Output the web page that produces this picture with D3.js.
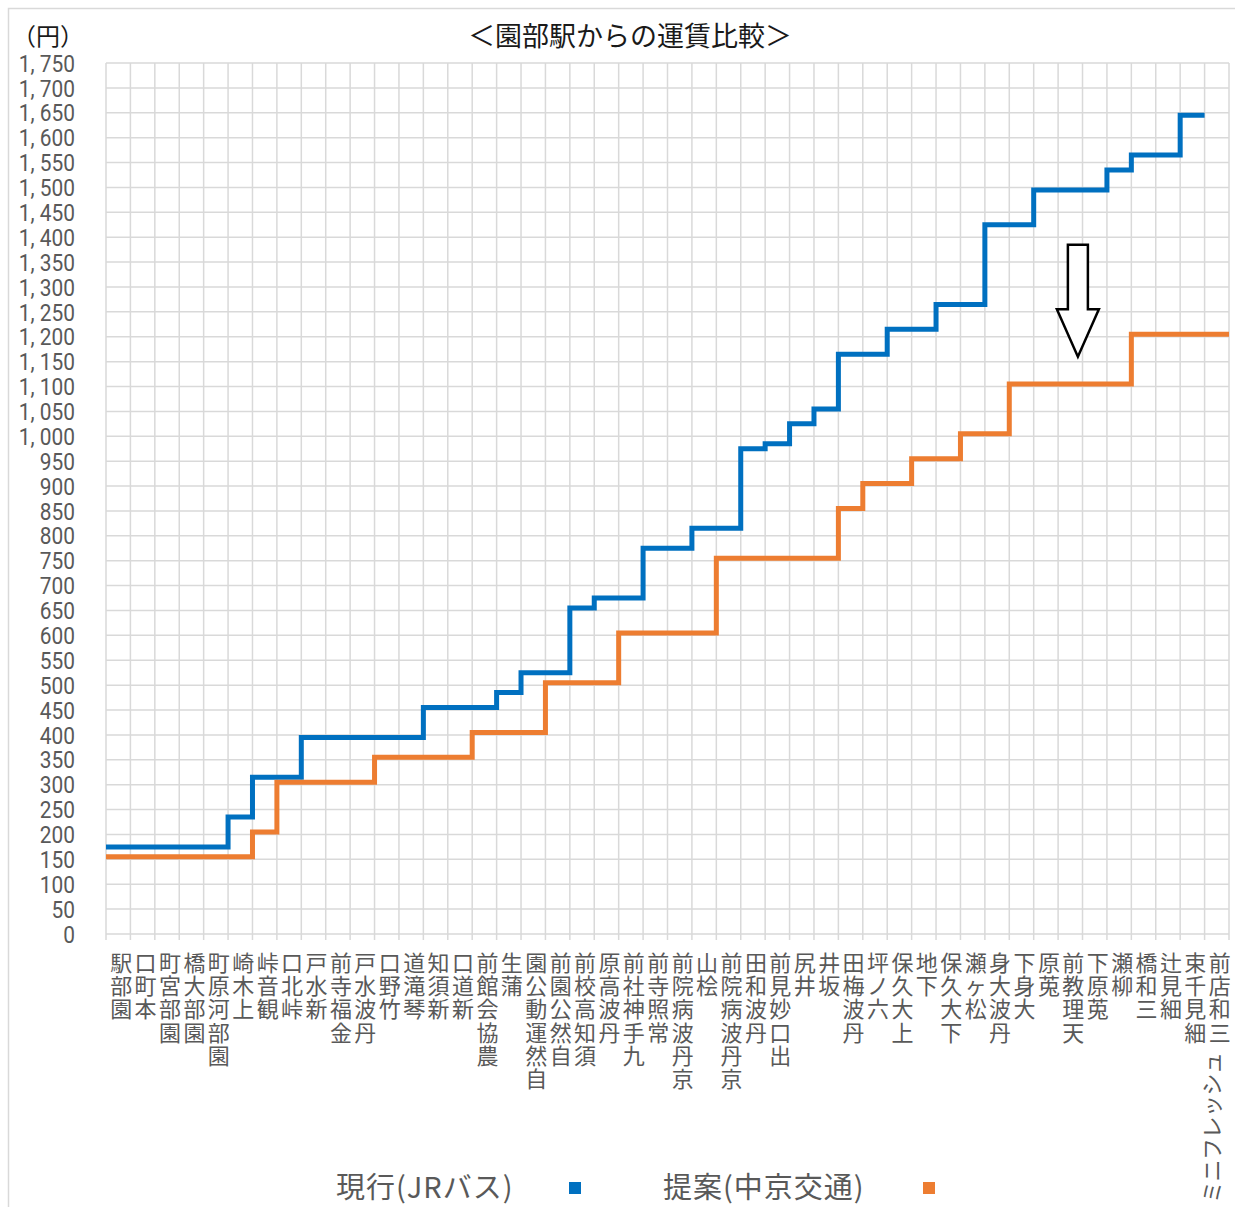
<!DOCTYPE html>
<html>
<head>
<meta charset="utf-8">
<script src="https://cdn.jsdelivr.net/npm/d3@7"></script>
<style>
body { margin: 0; background: #fff; }
svg { display: block; }
.grid line { stroke: #d9d9d9; stroke-width: 1.5; }
.ytick { font-family: Roboto, "Noto Sans", sans-serif; font-size: 24px; fill: #595959; }
.xlabel { font-family: "Noto Sans CJK JP", sans-serif; font-size: 22px; fill: #595959; }
.legend text { font-family: "Noto Sans CJK JP", sans-serif; font-size: 29px; letter-spacing: 1px; fill: #595959; }
.title { font-family: "Noto Sans CJK JP", sans-serif; font-size: 27px; fill: #1a1a1a; }
</style>
</head>
<body>
<svg id="chart" width="1235" height="1207"></svg>
<script>
"use strict";

// data
const stations = [
    "園部駅", "本町口", "園部宮町", "園部大橋", "園部河原町", "上木崎", "観音峠", "峠北口",
    "新水戸", "金福寺前", "丹波水戸", "竹野口", "琴滝道", "新須知", "新道口", "農協会館前",
    "蒲生", "自然運動公園", "自然公園前", "須知高校前", "丹波高原", "九手神社前", "常照寺前", "京丹波病院前",
    "桧山", "京丹波病院前 ", "丹波和田", "出口妙見前", "井尻", "坂井", "丹波梅田", "六ノ坪",
    "上大久保", "下地", "下大久保", "松ヶ瀬", "丹波大身", "大身下", "莵原", "天理教前",
    "莵原下", "柳瀬", "三和橋", "細見辻", "細見千束", "ミニフレッシュ三和店前"
];
const fareCurrent = [
    175, 175, 175, 175, 175, 235, 315, 315, 395, 395, 395, 395, 395, 455, 455, 455,
    485, 525, 525, 655, 675, 675, 775, 775, 815, 815, 975, 985, 1025, 1055, 1165, 1165,
    1215, 1215, 1265, 1265, 1425, 1425, 1495, 1495, 1495, 1535, 1565, 1565, 1645, null
];
const fareProposal = [
    155, 155, 155, 155, 155, 155, 205, 305, 305, 305, 305, 355, 355, 355, 355, 405,
    405, 405, 505, 505, 505, 605, 605, 605, 605, 755, 755, 755, 755, 755, 855, 905,
    905, 955, 955, 1005, 1005, 1105, 1105, 1105, 1105, 1105, 1205, 1205, 1205, 1205
];
const yTicks = d3.range(0, 1751, 50);
const seriesNames = ["現行(JRバス)", "提案(中京交通)"];
const seriesColors = ["#0070c0", "#ed7d31"];

// annotation arrow (fare values it spans, station it sits over)
const arrowStation = "天理教前";
const arrowFrom = 1385, arrowNeck = 1255, arrowTo = 1160;



// consts
const width = 1235, height = 1207;
const margin = {top: 63, left: 106, right: 6};
const plotW = width - margin.left - margin.right,
      plotH = 934 - margin.top;
const labelSize = 22, stepKanji = 23.3, stepKana = 21.5;

let svg = d3.select("#chart");

// frame
svg.append("rect")
.attr("x", 8.5).attr("y", 8.5)
.attr("width", width + 20).attr("height", height + 20)
.attr("fill", "none")
.attr("stroke", "#d9d9d9")
.attr("stroke-width", 1.5);



// scales
let scaleX = d3.scaleBand()
.domain(stations)
.range([0, plotW])
.padding(0);

let scaleY = d3.scaleLinear()
.domain([0, 1750])
.range([plotH, 0]);

let plot = svg.append("g")
.attr("transform", `translate(${margin.left}, ${margin.top})`);



// grid lines
let grid = plot.append("g").attr("class", "grid");

grid.selectAll("line.h")
.data(yTicks)
.join("line")
.attr("class", "h")
.attr("x1", 0)
.attr("x2", plotW)
.attr("y1", d => scaleY(d))
.attr("y2", d => scaleY(d));

let bounds = stations.map(s => scaleX(s)).concat([plotW]);
grid.selectAll("line.v")
.data(bounds)
.join("line")
.attr("class", "v")
.attr("x1", d => d)
.attr("x2", d => d)
.attr("y1", 0)
.attr("y2", plotH + 6);



// y axis labels (narrow digits)
plot.append("g")
.selectAll("text")
.data(yTicks)
.join("text")
.attr("class", "ytick")
.attr("transform", d => `translate(-31, ${scaleY(d)}) scale(0.87, 1)`)
.attr("dy", "0.36em")
.attr("text-anchor", "end")
.text(d => d3.format(",")(d).replace(",", ", "));

svg.append("text")
.attr("class", "title")
.attr("x", 48)
.attr("y", 45)
.attr("text-anchor", "middle")
.style("font-size", "24px")
.text("（円）");



// x axis labels: stacked characters reading upward, katakana turned sideways
function stackLabel(d) {
    let name = d.trim();
    let chars = Array.from(name);
    let kana = chars.map(() => false);
    for (let m of name.matchAll(/[ァ-ヴー]{2,}/g)) {
        for (let k = m.index; k < m.index + m[0].length; k++) kana[k] = true;
    }
    let cx = scaleX(d) + scaleX.bandwidth() / 2 + 3;
    let pos = [], yy = plotH + 15;
    for (let k = chars.length - 1; k >= 0; k--) {
        let step = kana[k] ? stepKana : stepKanji;
        pos[k] = {c: chars[k], kana: kana[k], y: yy + step / 2};
        yy += step;
    }
    d3.select(this)
    .selectAll("tspan")
    .data(pos)
    .join("tspan")
    .attr("x", p => p.kana ? cx + labelSize / 2 : cx)
    .attr("y", p => p.kana ? p.y + labelSize / 2 : p.y)
    .attr("rotate", p => p.kana ? -90 : null)
    .text(p => p.c);
}

plot.append("g")
.selectAll("text")
.data(stations)
.join("text")
.attr("class", "xlabel")
.attr("text-anchor", "middle")
.attr("dominant-baseline", "central")
.each(stackLabel);



// step lines
let line = d3.line()
.defined(d => d.v != null)
.x(d => d.x)
.y(d => scaleY(d.v));

[fareCurrent, fareProposal].forEach((fares, i) => {
    let pts = fares.flatMap((v, k) => [
        {x: scaleX(stations[k]), v: v},
        {x: scaleX(stations[k]) + scaleX.bandwidth(), v: v}
    ]);
    plot.append("path")
    .datum(pts)
    .attr("d", line)
    .attr("fill", "none")
    .attr("stroke", seriesColors[i])
    .attr("stroke-width", 5)
    .attr("stroke-linejoin", "miter");
});



// arrow
let ax = scaleX(arrowStation) + scaleX.bandwidth() * 0.81;
let arrowPath = d3.path();
arrowPath.moveTo(ax - 10, scaleY(arrowFrom));
arrowPath.lineTo(ax + 10, scaleY(arrowFrom));
arrowPath.lineTo(ax + 10, scaleY(arrowNeck));
arrowPath.lineTo(ax + 21, scaleY(arrowNeck));
arrowPath.lineTo(ax, scaleY(arrowTo));
arrowPath.lineTo(ax - 21, scaleY(arrowNeck));
arrowPath.lineTo(ax - 10, scaleY(arrowNeck));
arrowPath.closePath();
plot.append("path")
.attr("d", arrowPath.toString())
.attr("fill", "#fff")
.attr("stroke", "#000")
.attr("stroke-width", 2.5);



// title
svg.append("text")
.attr("class", "title")
.attr("x", 630)
.attr("y", 46)
.attr("text-anchor", "middle")
.text("＜園部駅からの運賃比較＞");



// legend
let legendX = [336, 663], boxX = [569, 923];
let legend = svg.append("g").attr("class", "legend");
seriesNames.forEach((name, i) => {
    legend.append("text")
    .attr("x", legendX[i])
    .attr("y", 1188)
    .attr("dy", "0.36em")
    .text(name);
    legend.append("rect")
    .attr("x", boxX[i])
    .attr("y", 1182)
    .attr("width", 12)
    .attr("height", 12)
    .attr("fill", seriesColors[i]);
});
</script>
</body>
</html>
